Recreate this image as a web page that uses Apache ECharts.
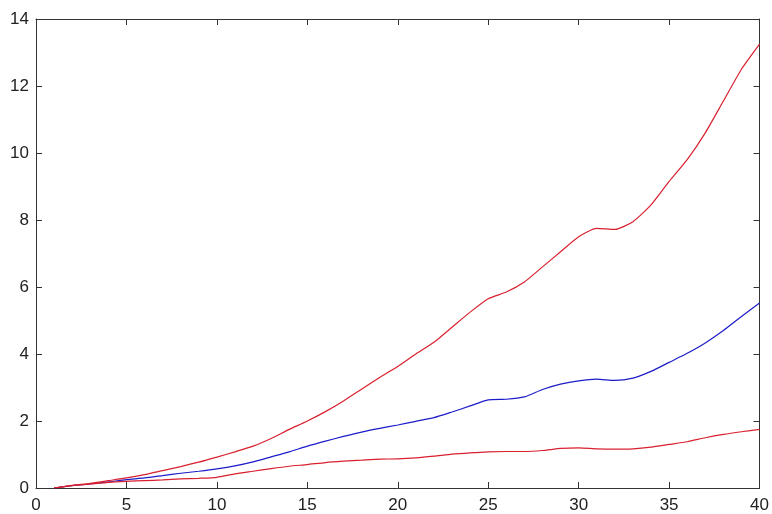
<!DOCTYPE html>
<html>
<head>
<meta charset="utf-8">
<script src="https://cdn.jsdelivr.net/npm/echarts@6/dist/echarts.min.js"></script>
<style>html,body{margin:0;padding:0;background:#fff;}#c{width:772px;height:514px;}</style>
</head>
<body>
<div id="c"></div>
<script>
var xValues = [1,2,3,4,5,6,7,8,9,10,11,12,13,14,15,16,17,18,19,20,21,22,23,24,25,26,27,28,29,30,31,32,33,34,35,36,37,38,39,40];
var upperRed = [0,0.08,0.14,0.22,0.3,0.4,0.52,0.64,0.77,0.92,1.08,1.25,1.48,1.75,2.0,2.28,2.6,2.95,3.3,3.63,4.0,4.35,4.8,5.25,5.65,5.85,6.15,6.6,7.05,7.5,7.75,7.72,7.95,8.45,9.15,9.8,10.6,11.55,12.5,13.25];
var blueMid = [0,0.07,0.12,0.18,0.25,0.3,0.37,0.44,0.5,0.57,0.66,0.78,0.93,1.08,1.25,1.4,1.54,1.67,1.78,1.88,1.99,2.1,2.27,2.45,2.63,2.65,2.72,2.94,3.1,3.2,3.25,3.21,3.28,3.48,3.75,4.02,4.33,4.7,5.12,5.52];
var lowerRed = [0,0.07,0.12,0.17,0.2,0.22,0.24,0.27,0.29,0.32,0.42,0.5,0.58,0.65,0.7,0.76,0.8,0.83,0.86,0.87,0.9,0.95,1.01,1.05,1.08,1.09,1.09,1.12,1.18,1.2,1.17,1.16,1.17,1.22,1.3,1.38,1.5,1.6,1.68,1.75];
var xTicks = [0,5,10,15,20,25,30,35,40];
var yTicks = [0,2,4,6,8,10,12,14];

function pairs(ys){ return xValues.map(function(x,i){ return [x, ys[i]]; }); }

var axisLine = {show:true, onZero:false, lineStyle:{color:'#333', width:1}};
var tickIn = {show:true, inside:true, length:6, lineStyle:{color:'#333', width:1}};
var lbl = {color:'#222', fontFamily:'Liberation Sans, Arial, sans-serif', fontSize:17};

var chart = echarts.init(document.getElementById('c'), null, {renderer:'canvas'});
chart.setOption({
  animation:false,
  backgroundColor:'#fff',
  grid:{left:36, right:9, top:19, bottom:24, containLabel:false},
  xAxis:[
    {type:'value', min:0, max:40, interval:5, position:'bottom', axisLine:axisLine, axisTick:tickIn,
     axisLabel:Object.assign({margin:9, formatter:function(v){return xTicks.indexOf(v)>=0?String(v):'';}}, lbl), splitLine:{show:false}},
    {type:'value', min:0, max:40, interval:5, position:'top', axisLine:axisLine, axisTick:tickIn,
     axisLabel:{show:false}, splitLine:{show:false}}
  ],
  yAxis:[
    {type:'value', min:0, max:14, interval:2, position:'left', axisLine:axisLine, axisTick:tickIn,
     axisLabel:Object.assign({margin:7, formatter:function(v){return yTicks.indexOf(v)>=0?String(v):'';}}, lbl), splitLine:{show:false}},
    {type:'value', min:0, max:14, interval:2, position:'right', axisLine:axisLine, axisTick:tickIn,
     axisLabel:{show:false}, splitLine:{show:false}}
  ],
  series:[
    {type:'line', data:pairs(upperRed), showSymbol:false, smooth:0.2, lineStyle:{color:'#d8202e', width:1.2}, z:3},
    {type:'line', data:pairs(blueMid), showSymbol:false, smooth:0.2, lineStyle:{color:'#1c1cc8', width:1.2}, z:2},
    {type:'line', data:pairs(lowerRed), showSymbol:false, smooth:0.2, lineStyle:{color:'#d8202e', width:1.2}, z:4}
  ]
});
</script>
</body>
</html>
